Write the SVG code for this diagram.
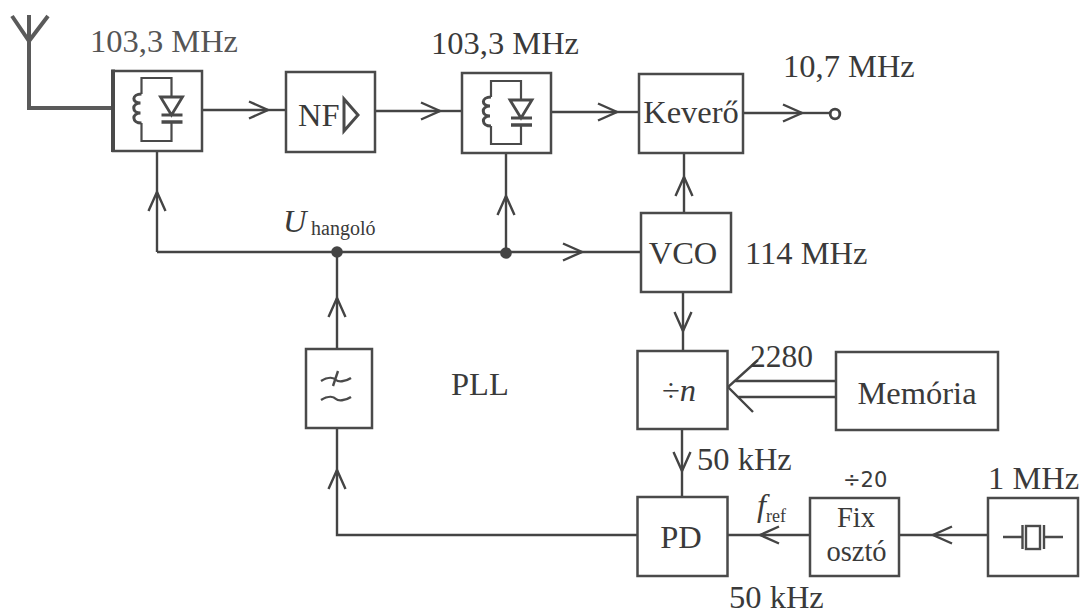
<svg xmlns="http://www.w3.org/2000/svg" width="1081" height="615" viewBox="0 0 1081 615">
<defs>
<marker id="a" markerUnits="userSpaceOnUse" markerWidth="24" markerHeight="24" refX="20" refY="12" orient="auto"><path d="M1 3.500L20 12L1 20.500" fill="none" stroke="#444" stroke-width="2.400"/></marker>
<g id="tank" fill="none" stroke="#4a4a4a">
<path d="M0 16V0H30V19M30 44V63H0V45" stroke-width="2.200"/>
<path d="M0 16c-10 0-10 9-1 9c-9 0-9 10 0 10c-9 0-9 10 1 10" stroke-width="3"/>
<path d="M19 19H41L30 37ZM20 37H41" stroke-width="2.800"/>
<path d="M20 44H41" stroke-width="3.500"/>
</g>
</defs>
<style>
text{font-family:"Liberation Serif",serif;fill:#3a3a3a;font-size:32.500px}
.b{fill:#fff;stroke:#4a4a4a;stroke-width:2.500}
.c{fill:none;stroke:#444;stroke-width:2.400}
.m{text-anchor:middle}
</style>
<rect width="1081" height="615" fill="#fff"/>
<g id="connectors">
<path d="M12 16L29 41L48 16M29 15V108H113" fill="none" stroke="#5a5a5a" stroke-width="4"/>
<path class="c" d="M203 110H268" marker-end="url(#a)"/><path class="c" d="M268 110H286"/>
<path class="c" d="M375 111H440" marker-end="url(#a)"/><path class="c" d="M440 111H462"/>
<path class="c" d="M551 112H617" marker-end="url(#a)"/><path class="c" d="M617 112H639"/>
<path class="c" d="M743 113H802" marker-end="url(#a)"/><path class="c" d="M802 113H830"/>
<path class="c" d="M684 213V177" marker-end="url(#a)"/><path class="c" d="M684 177V153"/>
<path class="c" d="M157 252V192" marker-end="url(#a)"/><path class="c" d="M157 192V151"/>
<path class="c" d="M157 252H582" marker-end="url(#a)"/><path class="c" d="M582 252H641"/>
<path class="c" d="M506 252V196" marker-end="url(#a)"/><path class="c" d="M506 196V153"/>
<path class="c" d="M337 349V298" marker-end="url(#a)"/><path class="c" d="M337 298V252"/>
<path class="c" d="M637 535H337V470" marker-end="url(#a)"/><path class="c" d="M337 470V428"/>
<path class="c" d="M683 292V331" marker-end="url(#a)"/><path class="c" d="M683 331V351"/>
<path class="c" d="M682 429V471" marker-end="url(#a)"/><path class="c" d="M682 471V497"/>
<path class="c" d="M758 360L728 387L753 412M735 381H836M738 397H836"/>
<path class="c" d="M810 535H760" marker-end="url(#a)"/><path class="c" d="M760 535H727"/>
<path class="c" d="M988 535H933" marker-end="url(#a)"/><path class="c" d="M933 535H899"/>
<circle cx="835" cy="114" r="4.800" fill="#fff" stroke="#444" stroke-width="2.800"/>
<circle cx="337" cy="252" r="5.800" fill="#444"/>
<circle cx="506" cy="253" r="5.800" fill="#444"/>
</g>
<g id="tuner1"><rect class="b" x="113" y="71" width="89" height="80"/><path d="M113 69.500V152" stroke="#4a4a4a" stroke-width="4"/><use href="#tank" x="141.500" y="78"/></g>
<g id="nf"><rect class="b" x="286" y="72" width="89" height="80"/><text x="298" y="126">NF</text><path d="M344 99L358 115L344 131Z" fill="none" stroke="#4a4a4a" stroke-width="3"/></g>
<g id="tuner2"><rect class="b" x="462" y="73" width="89" height="80"/><use href="#tank" x="491" y="81"/></g>
<g id="kevero"><rect class="b" x="639" y="74" width="104" height="79"/><text class="m" x="691" y="123">Keverő</text></g>
<g id="vco"><rect class="b" x="641" y="213" width="90" height="79"/><text class="m" x="683" y="264">VCO</text></g>
<g id="div"><rect class="b" x="637.500" y="351" width="90" height="78"/><text class="m" x="679" y="401">÷<tspan font-style="italic">n</tspan></text></g>
<g id="memoria"><rect class="b" x="836" y="352" width="162" height="78"/><text class="m" x="917" y="404">Memória</text></g>
<g id="lpf"><rect class="b" x="306" y="349" width="66" height="79"/><path d="M321 381c8-5 13-3 15-1s9 2 15-2M321 400c8-5 13-3 15-1s9 2 15-2M338 371L333 386" fill="none" stroke="#4a4a4a" stroke-width="2.400"/></g>
<g id="pd"><rect class="b" x="637.500" y="497" width="90" height="79"/><text class="m" x="681" y="548">PD</text></g>
<g id="fix"><rect class="b" x="810" y="498" width="89" height="78"/><text class="m" x="856" y="527" style="font-size:28.500px">Fix</text><text class="m" x="856.500" y="561" style="font-size:28.500px">osztó</text></g>
<g id="xtal"><rect class="b" x="988" y="498" width="90" height="78"/><path d="M1003 537H1022.500M1022.500 525V549M1044 525V549M1044 537H1063" fill="none" stroke="#4a4a4a" stroke-width="2.400"/><rect x="1026" y="526" width="14" height="23" fill="none" stroke="#4a4a4a" stroke-width="2.400"/></g>
<g id="labels">
<text x="90" y="52" style="fill:#555">103,3 MHz</text>
<text x="431" y="54">103,3 MHz</text>
<text x="783" y="77">10,7 MHz</text>
<text x="283" y="232" style="font-style:italic">U</text>
<text x="311" y="235" style="font-size:20px">hangoló</text>
<text x="745" y="264">114 MHz</text>
<text x="451" y="395">PLL</text>
<text x="750" y="367" style="font-size:31.500px">2280</text>
<text x="697" y="470">50 kHz</text>
<text x="843" y="487" style="font-family:'DejaVu Sans',sans-serif;font-size:21px">÷20</text>
<text x="988" y="489">1 MHz</text>
<text x="757" y="516" style="font-style:italic">f</text>
<text x="766" y="522" style="font-size:18px">ref</text>
<text x="729" y="608">50 kHz</text>
</g>
</svg>
